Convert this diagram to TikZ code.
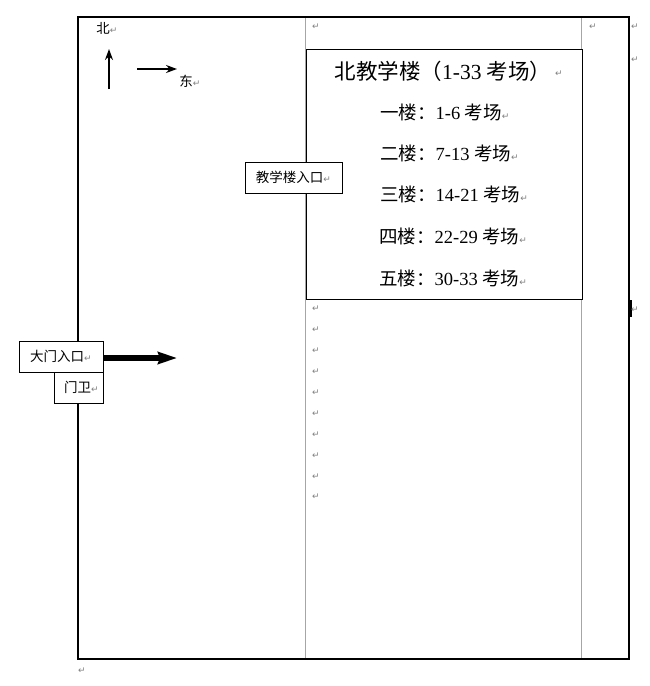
\documentclass[tikz,border=0pt]{standalone}
\usepackage{fontspec}
\setmainfont{Liberation Serif}
\newfontfamily\cjk{Noto Sans CJK SC}
\newfontfamily\symf{DejaVu Sans}
\usetikzlibrary{arrows.meta}
\newcommand\retmark{{\color{black!50}\symf\fontsize{9}{9}\selectfont ↵}}
\begin{document}
\begin{tikzpicture}[x=1pt,y=-1pt,
  frame/.style={draw=black, line width=1.3pt},
  colline/.style={draw=black!35, line width=0.9pt},
  labelbox/.style={draw=black, line width=0.9pt, fill=white, inner sep=0pt,
    font=\cjk\fontsize{13.5}{15}\selectfont},
  floor/.style={anchor=west, inner sep=0pt, font=\cjk\fontsize{18.5}{20}\selectfont},
  ret/.style={inner sep=0pt},
  compass/.style={line width=2pt, -{Stealth[length=11pt,width=8pt]}},
  gatearrow/.style={line width=5.5pt, -{Stealth[length=19pt,width=12pt,inset=2pt]}}
]
\useasboundingbox (0,0) rectangle (650,686);
% column lines
\draw[colline] (305,17) -- (305,659);
\draw[colline] (581,17) -- (581,659);
% outer frame
\draw[frame] (78,17) rectangle (629,659);
\fill (629,300) rectangle (632,317);
% building box
\node[draw=black, line width=1.3pt, fill=white, minimum width=276pt, minimum height=250pt,
  anchor=north west, inner sep=0pt] (bldg) at (306,49) {};
\node[inner sep=0pt] (title) at (443,71)
  {\cjk\fontsize{21.5}{23}\selectfont 北教学楼（\rmfamily 1-33 \cjk 考场）};
\node[ret] at (559,74) {\retmark};
\node[floor] (f1) at (380,112) {一楼：\rmfamily 1-6 \cjk 考场\retmark};
\node[floor] (f2) at (380,153) {二楼：\rmfamily 7-13 \cjk 考场\retmark};
\node[floor] (f3) at (380,194) {三楼：\rmfamily 14-21 \cjk 考场\retmark};
\node[floor] (f4) at (379,236) {四楼：\rmfamily 22-29 \cjk 考场\retmark};
\node[floor] (f5) at (379,278) {五楼：\rmfamily 30-33 \cjk 考场\retmark};
% entrance label
\node[labelbox, minimum width=97pt, minimum height=31pt] (entry) at (293.5,177.5) {教学楼入口\retmark};
% compass
\node[inner sep=0pt, font=\cjk\fontsize{13.5}{15}\selectfont] (north) at (107,28) {北\retmark};
\coordinate (nbase) at (109,89);
\coordinate (ntip) at (109,49);
\draw[compass] (nbase) -- (ntip);
\coordinate (ebase) at (137,69);
\coordinate (etip) at (177,69);
\draw[compass] (ebase) -- (etip);
\node[inner sep=0pt, font=\cjk\fontsize{13.5}{15}\selectfont] (east) at (190,81) {东\retmark};
% gate
\node[labelbox, minimum width=84pt, minimum height=31pt] (gate) at (61,356.5) {大门入口\retmark};
\node[labelbox, minimum width=49pt, minimum height=31pt] (guard) at (78.5,387.5) {\hspace{6pt}门卫\retmark};
\coordinate (gtip) at (177,358);
\draw[gatearrow] (gate.east |- gtip) -- (gtip);
% paragraph marks
\node[ret] at (316,27) {\retmark};
\node[ret] at (593,27) {\retmark};
\node[ret] at (635,27) {\retmark};
\node[ret] at (635,60) {\retmark};
\node[ret] at (635,310) {\retmark};
\foreach \yy in {309,330,351,372,393,414,435,456,477,497}
  \node[ret] at (316,\yy) {\retmark};
\node[ret] at (82,671) {\retmark};
\end{tikzpicture}
\end{document}
